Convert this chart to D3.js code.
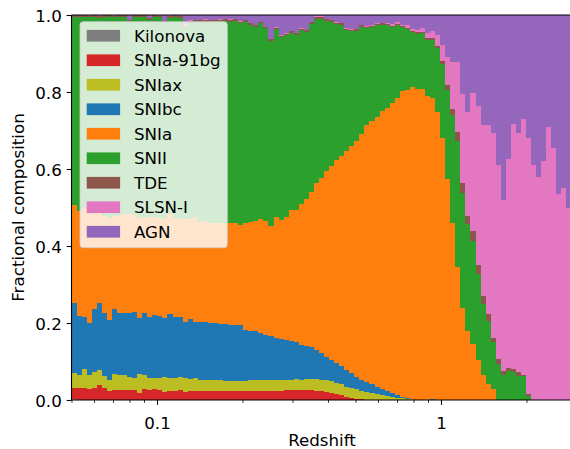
<!DOCTYPE html>
<html><head><meta charset="utf-8">
<script src="https://cdn.jsdelivr.net/npm/d3@7"></script>
<style>body{margin:0;background:#fff} svg{display:block} text{font-family:"DejaVu Sans",sans-serif}</style>
</head><body><svg id="c" width="570" height="449"></svg>
<script>
// Histogram binning (100 log-spaced redshift bins)
const zMin = 0.05, zMax = 3, nBins = 100;

const classNames = ["Kilonova","SNIa-91bg","SNIax","SNIbc","SNIa","SNII","TDE","SLSN-I","AGN"];
const classColors = ["#7f7f7f","#d62728","#bcbd22","#1f77b4","#ff7f0e","#2ca02c","#8c564b","#e377c2","#9467bd"];

const kilonova = [0.003,0,0,0,0,0,0,0,0,0, 0,0,0,0,0,0,0,0,0,0, 0,0,0,0,0,0,0,0,0,0, 0,0,0,0,0,0,0,0,0,0,
  0,0,0,0,0,0,0,0,0,0, 0,0,0,0,0,0,0,0,0,0, 0,0,0,0,0,0,0,0,0,0, 0,0,0,0,0,0,0,0,0,0,
  0,0,0,0,0,0,0,0,0,0, 0,0,0,0,0,0,0,0,0,0];
const snia91bg = [0.029,0.032,0.032,0.029,0.030,0.039,0.032,0.024,0.026,0.025,
  0.025,0.025,0.027,0.019,0.028,0.026,0.028,0.026,0.022,0.024,
  0.024,0.026,0.021,0.024,0.024,0.023,0.023,0.023,0.023,0.023,
  0.023,0.023,0.023,0.023,0.023,0.023,0.023,0.023,0.023,0.023,
  0.023,0.023,0.027,0.027,0.027,0.027,0.027,0.027,0.023,0.023,
  0.021,0.018,0.016,0.013,0.008,0.005,0.003,0.003,0,0,
  0,0,0,0,0,0,0,0,0,0, 0,0,0,0,0,0,0,0,0,0, 0,0,0,0,0,0,0,0,0,0, 0,0,0,0,0,0,0,0,0,0];
const sniax = [0.037,0.033,0.048,0.036,0.044,0.040,0.030,0.029,0.042,0.040,
  0.040,0.035,0.030,0.048,0.037,0.032,0.029,0.031,0.037,0.033,
  0.033,0.033,0.036,0.031,0.032,0.030,0.029,0.029,0.029,0.029,
  0.027,0.027,0.027,0.026,0.026,0.029,0.029,0.029,0.029,0.029,
  0.029,0.030,0.026,0.026,0.028,0.026,0.028,0.028,0.032,0.029,
  0.031,0.031,0.028,0.029,0.026,0.026,0.026,0.020,0.021,0.018,
  0.016,0.013,0.010,0.008,0.006,0.004,0.003,0,0,0,
  0,0,0,0,0,0,0,0,0,0, 0,0,0,0,0,0,0,0,0,0, 0,0,0,0,0,0,0,0,0,0];
const snibc = [0.184,0.153,0.136,0.136,0.162,0.174,0.163,0.155,0.168,0.161,
  0.161,0.166,0.172,0.146,0.161,0.158,0.164,0.162,0.154,0.167,
  0.159,0.157,0.146,0.155,0.147,0.150,0.151,0.148,0.148,0.146,
  0.147,0.145,0.144,0.145,0.133,0.127,0.127,0.123,0.117,0.115,
  0.110,0.105,0.103,0.100,0.096,0.090,0.085,0.082,0.075,0.070,
  0.060,0.055,0.052,0.046,0.044,0.039,0.031,0.030,0.026,0.024,
  0.018,0.016,0.013,0.010,0.007,0.004,0.002,0,0,0,
  0,0.003,0,0,0,0,0,0,0,0, 0,0,0,0,0,0,0,0,0,0, 0,0,0,0,0,0,0,0,0,0];
const snia = [0.253,0.272,0.284,0.286,0.246,0.234,0.253,0.264,0.242,0.255,
  0.257,0.257,0.252,0.261,0.248,0.259,0.254,0.254,0.258,0.259,
  0.258,0.253,0.266,0.261,0.272,0.260,0.262,0.261,0.261,0.263,
  0.262,0.266,0.267,0.261,0.277,0.284,0.286,0.295,0.296,0.285,
  0.313,0.310,0.319,0.341,0.343,0.366,0.382,0.403,0.434,0.455,
  0.483,0.504,0.527,0.547,0.569,0.590,0.613,0.638,0.667,0.683,
  0.701,0.722,0.735,0.753,0.771,0.795,0.800,0.813,0.808,0.808,
  0.790,0.781,0.748,0.681,0.574,0.460,0.345,0.239,0.179,0.145,
  0.104,0.065,0.042,0.029,0,0,0,0,0,0, 0,0,0,0,0,0,0,0,0,0];
const snii = [0.490,0.504,0.495,0.507,0.513,0.506,0.518,0.523,0.516,0.514,
  0.512,0.501,0.513,0.522,0.520,0.513,0.519,0.521,0.509,0.510,
  0.521,0.524,0.499,0.509,0.507,0.520,0.518,0.521,0.521,0.523,
  0.526,0.522,0.524,0.523,0.524,0.510,0.504,0.509,0.501,0.480,
  0.489,0.475,0.473,0.459,0.454,0.452,0.434,0.437,0.426,0.413,
  0.389,0.374,0.354,0.339,0.314,0.298,0.285,0.278,0.252,0.244,
  0.239,0.223,0.216,0.198,0.190,0.166,0.159,0.143,0.143,0.144,
  0.145,0.151,0.167,0.192,0.231,0.280,0.328,0.299,0.278,0.268,
  0.223,0.184,0.163,0.122,0.094,0.065,0.075,0.073,0.062,0.062,
  0.010,0,0,0,0,0,0,0,0,0];
const tde = [0.004,0.005,0.005,0.004,0.005,0.005,0.004,0.005,0.004,0.005,
  0.004,0.004,0.005,0.004,0.005,0.004,0.005,0.004,0.004,0.005,
  0.004,0.005,0.004,0.004,0.004,0.005,0.004,0.004,0.005,0.004,
  0.004,0.004,0.005,0.004,0.005,0.005,0.005,0.003,0.003,0.005,
  0.003,0.003,0.003,0.005,0.005,0.003,0.005,0.005,0.005,0.005,
  0.005,0.005,0.003,0.005,0.003,0.003,0.005,0.005,0.003,0.003,
  0.003,0.005,0.003,0.003,0.003,0.003,0.003,0.003,0.005,0.003,
  0.006,0.006,0.004,0.008,0.013,0.016,0.023,0.026,0.021,0.026,
  0.024,0.021,0.018,0.010,0.012,0.010,0.008,0.007,0.011,0.002,
  0.006,0,0,0,0,0,0,0,0,0];
const slsn = [0,0,0,0,0,0,0,0,0,0, 0,0,0,0,0,0,0,0,0,0,
  0,0,0.004,0.004,0.002,0,0.002,0.002,0,0.002,
  0,0.002,0,0.002,0,0,0,0,0,0,
  0.003,0.003,0.003,0,0,0.003,0,0,0.003,0.002,
  0,0,0.003,0,0.003,0.003,0,0,0.003,0.003,
  0.003,0,0.003,0.005,0.005,0.003,0.008,0.005,0.005,0.010,
  0.012,0.017,0.029,0.041,0.073,0.122,0.182,0.231,0.270,0.358,
  0.413,0.444,0.491,0.532,0.505,0.444,0.543,0.637,0.620,0.666,
  0.665,0.610,0.579,0.621,0.709,0.655,0.535,0.551,0.499,0.520];
const agn = [0,0.001,0,0.002,0,0.002,0,0,0.002,0,
  0.001,0.012,0.001,0,0.001,0.008,0.001,0.002,0.016,0.002,
  0.001,0.002,0.024,0.012,0.012,0.012,0.011,0.012,0.013,0.010,
  0.011,0.011,0.010,0.016,0.012,0.022,0.026,0.018,0.031,0.063,
  0.030,0.051,0.046,0.042,0.047,0.033,0.039,0.018,0.002,0.003,
  0.011,0.013,0.017,0.022,0.033,0.036,0.037,0.026,0.028,0.025,
  0.020,0.021,0.020,0.023,0.018,0.025,0.025,0.036,0.039,0.035,
  0.047,0.042,0.052,0.078,0.109,0.122,0.122,0.205,0.252,0.203,
  0.236,0.286,0.286,0.307,0.389,0.481,0.374,0.283,0.307,0.270,
  0.319,0.390,0.421,0.379,0.291,0.345,0.465,0.449,0.501,0.480];

const xMajorTicks = [0.1, 1];
const xMinorTicks = [0.05,0.06,0.07,0.08,0.09,0.2,0.3,0.4,0.5,0.6,0.7,0.8,0.9,2,3];
const yTicks = [0, 0.2, 0.4, 0.6, 0.8, 1.0];

const seriesValues = [kilonova, snia91bg, sniax, snibc, snia, snii, tde, slsn, agn];

// ---- layout
const FS = 16.7;
const L = 71.5, T = 15, B = 400, R = 576.5;
const svg = d3.select("#c");
const x = d3.scaleLog().domain([zMin, zMax]).range([L, R]);
const y = d3.scaleLinear().domain([0, 1]).range([B, T]);

const edges = d3.range(nBins + 1).map(i => zMin * Math.pow(zMax / zMin, i / nBins));
const rows = d3.range(nBins).map(i => {
  const r = {x0: edges[i], x1: edges[i + 1]};
  classNames.forEach((c, k) => r[c] = seriesValues[k][i]);
  return r;
});
const stack = d3.stack().keys(classNames)(rows);

svg.append("defs").append("clipPath").attr("id", "plotclip")
  .append("rect").attr("x", L).attr("y", T).attr("width", R - L).attr("height", B - T);

const plot = svg.append("g").attr("clip-path", "url(#plotclip)");
stack.forEach((layer, k) => {
  plot.append("g").attr("fill", classColors[k]).attr("shape-rendering", "crispEdges")
    .selectAll("rect").data(layer).join("rect")
    .attr("x", d => x(d.data.x0))
    .attr("width", d => x(d.data.x1) - x(d.data.x0))
    .attr("y", d => y(d[1]))
    .attr("height", d => Math.max(0, y(d[0]) - y(d[1])));
});

// ---- axes
const tickLen = 4.86, tickW = 1.1;
const xAxis = svg.append("g").attr("transform", `translate(0,${B})`)
  .call(d3.axisBottom(x).tickValues(xMajorTicks).tickFormat(d => d === 1 ? "1" : String(d))
    .tickSize(tickLen).tickPadding(4.86));
xAxis.select(".domain").remove();
xAxis.selectAll("line").attr("stroke", "#000").attr("stroke-width", tickW);
xAxis.selectAll("text").attr("font-size", FS).attr("font-family", "DejaVu Sans").attr("fill", "#000")
  .attr("y", 29).attr("dy", null);
const xMinor = svg.append("g").attr("transform", `translate(0,${B})`)
  .call(d3.axisBottom(x).tickValues(xMinorTicks).tickFormat("").tickSize(2.78));
xMinor.select(".domain").remove();
xMinor.selectAll("line").attr("stroke", "#000").attr("stroke-width", 0.85);

const yAxis = svg.append("g").attr("transform", `translate(${L},0)`)
  .call(d3.axisLeft(y).tickValues(yTicks).tickFormat(d3.format(".1f")).tickSize(tickLen).tickPadding(4.86));
yAxis.select(".domain").remove();
yAxis.selectAll("line").attr("stroke", "#000").attr("stroke-width", tickW);
yAxis.selectAll("text").attr("font-size", FS).attr("font-family", "DejaVu Sans").attr("fill", "#000")
  .attr("dy", "0.36em");

// spines
const sp = svg.append("g").attr("stroke", "#000").attr("stroke-width", tickW).attr("fill", "none");
sp.append("line").attr("x1", L).attr("x2", L).attr("y1", T).attr("y2", B);
sp.append("line").attr("x1", L).attr("x2", R).attr("y1", B).attr("y2", B);
sp.append("line").attr("x1", L).attr("x2", R).attr("y1", T).attr("y2", T);
sp.append("line").attr("x1", R).attr("x2", R).attr("y1", T).attr("y2", B);

// labels
svg.append("text").attr("x", 322).attr("y", 446).attr("text-anchor", "middle")
  .attr("font-size", FS).attr("fill", "#000").text("Redshift");
svg.append("text").attr("transform", `translate(24,${(T + B) / 2}) rotate(-90)`)
  .attr("text-anchor", "middle").attr("font-size", FS).attr("fill", "#000").text("Fractional composition");

// legend
const lg = svg.append("g");
lg.append("rect").attr("x", 80).attr("y", 21.7).attr("width", 147.3).attr("height", 226)
  .attr("rx", 3.3).attr("fill", "#fff").attr("fill-opacity", 0.8)
  .attr("stroke", "#cccccc").attr("stroke-opacity", 0.8).attr("stroke-width", 1);
classNames.forEach((c, k) => {
  const base = 41.6 + 24.5 * k;
  lg.append("rect").attr("x", 86.7).attr("y", base - 11.7).attr("width", 33.4).attr("height", 11.7)
    .attr("fill", classColors[k]);
  lg.append("text").attr("x", 134).attr("y", base).attr("font-size", FS).attr("fill", "#000").text(c);
});
</script></body></html>
